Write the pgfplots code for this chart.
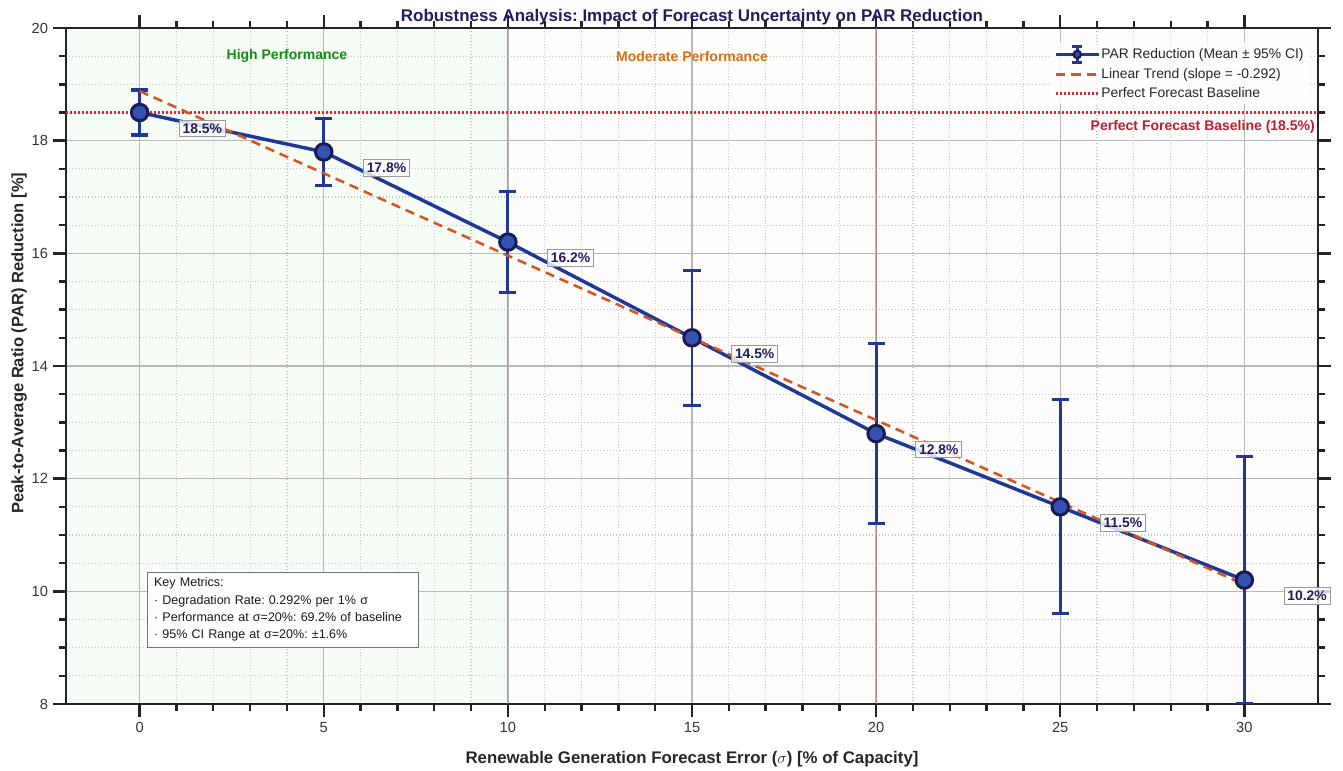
\documentclass[border=0pt]{standalone}
\usepackage{fontspec}
\setmainfont{Liberation Sans}
\usepackage{pgfplots}
\pgfplotsset{compat=1.18}
\usepackage{pgfplotstable}

\definecolor{navyline}{RGB}{31,56,150}
\definecolor{markfill}{RGB}{52,82,180}
\definecolor{markedge}{RGB}{25,27,80}
\definecolor{navytext}{RGB}{30,30,95}
\definecolor{trendc}{RGB}{214,85,30}
\definecolor{basec}{RGB}{210,45,50}
\definecolor{basetext}{RGB}{190,30,45}
\definecolor{greentext}{RGB}{20,140,20}
\definecolor{orangetext}{RGB}{220,110,15}
\definecolor{axisc}{RGB}{35,35,35}
\definecolor{line10}{RGB}{175,155,105}
\definecolor{line20}{RGB}{165,140,130}

\pgfplotstableread{
x y e
0 18.5 0.4
5 17.8 0.6
10 16.2 0.9
15 14.5 1.2
20 12.8 1.6
25 11.5 1.9
30 10.2 2.2
}\datatable

\pgfplotstableread{
x y
0 18.88
30 10.12
}\trendtable

\pgfplotstableread{
x y
-2 18.5
32 18.5
}\basetable

\begin{document}
\frenchspacing
\begin{tikzpicture}
\begin{axis}[
  set layers=standard,
  at={(49.5pt,50.25pt)}, anchor=south west,
  scale only axis, width=939pt, height=507pt,
  xmin=-2, xmax=32, ymin=8, ymax=20,
  xtick={0,5,...,30}, ytick={8,10,...,20},
  minor x tick num=4, minor y tick num=3,
  tick align=outside, tick pos=both,
  major tick length=10pt, minor tick length=5pt,
  every tick/.style={line width=1.8pt, color=axisc},
  axis line style={line width=1.8pt, color=axisc},
  grid=both,
  major grid style={black!28, line width=1pt},
  minor grid style={black!22, dotted, line width=0.9pt},
  /pgf/number format/assume math mode=true,
  tick label style={font=\fontsize{11}{13}\selectfont, color=black!80},
  title={Robustness Analysis: Impact of Forecast Uncertainty on PAR Reduction},
  title style={font=\bfseries\fontsize{12.7}{15}\selectfont, color=navytext, at={(0.5,1)}, anchor=base, yshift=-1.2pt},
  xlabel={Renewable Generation Forecast Error ($\sigma$) [\% of Capacity]},
  xlabel style={font=\bfseries\fontsize{12.6}{15}\selectfont, color=black!85, at={(0.5,0)}, anchor=base, yshift=-45pt, inner sep=0pt},
  ylabel={Peak-to-Average Ratio (PAR) Reduction [\%]},
  ylabel style={font=\bfseries\fontsize{12.4}{15}\selectfont, color=black!85, at={(0,0.534)}, anchor=base, yshift=32pt},
  legend cell align=left,
  legend style={at={(0.993,0.979)}, anchor=north east, draw=none, fill=white, fill opacity=0.8, text opacity=1,
    font=\fontsize{10.4}{12}\selectfont, text=black!85, row sep=2pt,
    nodes={inner sep=1pt, text height=7.8pt, text depth=2.4pt}},
  legend image code/.code={\draw[#1, mark repeat=2, mark phase=2] plot coordinates {(0cm,0cm) (0.55cm,0cm) (1.12cm,0cm)};},
]
\addplot[forget plot, fill={rgb,255:red,246;green,252;blue,246}, draw=none, on layer=axis background] coordinates {(-2,8) (-2,20) (10,20) (10,8)} -- cycle;
\addplot[forget plot, fill={rgb,255:red,254;green,253;blue,251}, draw=none, on layer=axis background] coordinates {(10,8) (10,20) (20,20) (20,8)} -- cycle;
\addplot[forget plot, fill={rgb,255:red,254;green,252;blue,252}, draw=none, on layer=axis background] coordinates {(20,8) (20,20) (32,20) (32,8)} -- cycle;
\addplot[forget plot, line10, line width=0.9pt] coordinates {(10,8) (10,20)};
\addplot[forget plot, line20, line width=0.9pt] coordinates {(20,8) (20,20)};

\addplot[forget plot, basec, line width=2pt, dash pattern=on 1.6pt off 1.4pt] table[x=x,y=y]{\basetable};

\addplot[navyline, line width=2.6pt, mark=*, mark size=6.2pt,
  mark options={fill=markfill, draw=markedge, line width=2.2pt, solid},
  legend image code/.code={
    \draw[navyline, line width=2.2pt] (0cm,0cm) -- (1.12cm,0cm);
    \draw[navyline, line width=2pt] (0.56cm,-6pt) -- (0.56cm,6pt);
    \draw[navyline, line width=2pt] (0.56cm,-6pt) ++(-3.8pt,0) -- ++(7.6pt,0);
    \draw[navyline, line width=2pt] (0.56cm,6pt) ++(-3.8pt,0) -- ++(7.6pt,0);
    \draw[markedge, fill=markfill, line width=1.6pt] (0.56cm,0cm) circle (2.8pt);
  },
  error bars/.cd, y dir=both, y explicit,
  error bar style={line width=2.2pt, navyline},
  error mark options={rotate=90, mark size=6.4pt, line width=2.4pt, navyline}]
  table[x=x, y=y, y error=e]{\datatable};
\addlegendentry{PAR Reduction (Mean ± 95\% CI)}

\addplot[trendc, line width=1.9pt, dash pattern=on 7pt off 4.5pt] table[x=x,y=y]{\trendtable};
\addlegendentry{Linear Trend (slope = -0.292)}

\addlegendimage{basec, line width=2pt, dash pattern=on 1.6pt off 1.4pt}
\addlegendentry{Perfect Forecast Baseline}

\addplot[draw=none, forget plot,
  nodes near coords={\pgfmathprintnumber[fixed,precision=1,fixed zerofill]{\pgfplotspointmeta}\%},
  point meta=y,
  every node near coord/.style={anchor=center, xshift=47pt, yshift=-12pt,
    fill=white, fill opacity=0.8, text opacity=1, draw=black!40, line width=0.6pt,
    inner sep=2.5pt, font=\bfseries\fontsize{10.4}{12}\selectfont, text=navytext}]
  table[x=x,y=y]{\datatable};

\node[font=\bfseries\fontsize{10.5}{12}\selectfont, text=greentext] at (axis cs:4,19.5) {High Performance};
\node[font=\bfseries\fontsize{10.5}{12}\selectfont, text=orangetext] at (axis cs:15,19.5) {Moderate Performance};
\node[font=\bfseries\fontsize{10.5}{12}\selectfont, text=basetext, anchor=east, inner sep=0pt] at (axis cs:31.92,18.24) {Perfect Forecast Baseline (18.5\%)};

\node[anchor=north west, draw=black!55, fill=white, line width=0.6pt, align=left, inner xsep=5pt, inner ysep=4pt,
  text width=193pt, font=\fontsize{9.4}{13}\selectfont, text=black!90] at (axis cs:0.2,10.34)
  {Key Metrics:\\
   · Degradation Rate: 0.292\% per 1\% σ\\
   · Performance at σ=20\%: 69.2\% of baseline\\
   · 95\% CI Range at σ=20\%: ±1.6\%};
\end{axis}
\path (0,0) rectangle (1007.25pt,578.25pt);
\end{tikzpicture}
\end{document}
